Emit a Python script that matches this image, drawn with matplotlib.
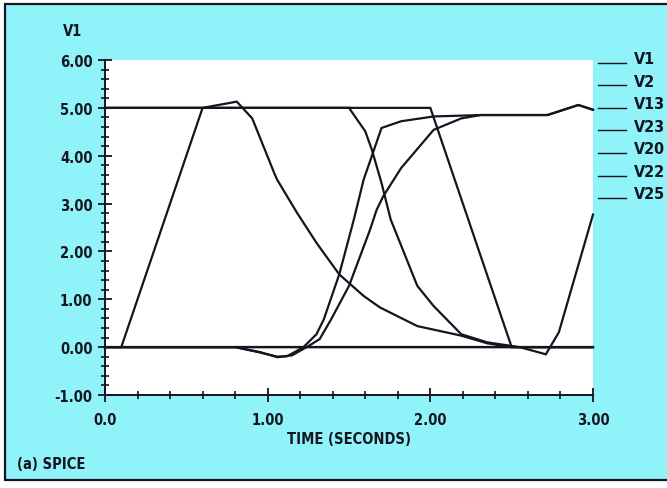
import matplotlib
matplotlib.use('Agg')
import matplotlib.pyplot as plt
from matplotlib.patches import Rectangle
from matplotlib.ticker import MultipleLocator, FixedLocator, FixedFormatter

plt.rcParams['font.family'] = ['DejaVu Sans']
plt.rcParams['font.stretch'] = 'condensed'
plt.rcParams['font.weight'] = 'bold'
plt.rcParams['axes.labelweight'] = 'bold'

# ---- data ----
series_names = ['V1', 'V2', 'V13', 'V23', 'V20', 'V22', 'V25']

t_v1 = [0.0, 3.0]
v_v1 = [0.0, 0.0]

t_v2 = [0.0, 0.1, 0.6, 2.0, 2.5, 3.0]
v_v2 = [0.0, 0.0, 5.0, 5.0, 0.0, 0.0]

t_v13 = [0.0, 0.6, 0.81, 0.905, 0.975, 1.04, 1.058, 1.18, 1.30, 1.44, 1.59, 1.69, 1.92, 2.19, 2.35, 2.5, 3.0]
v_v13 = [5.0, 5.0, 5.13, 4.78, 4.19, 3.64, 3.50, 2.81, 2.18, 1.52, 1.07, 0.83, 0.44, 0.24, 0.08, 0.0, 0.0]

t_v23 = [0.0, 0.8, 0.95, 1.06, 1.12, 1.22, 1.30, 1.345, 1.44, 1.53, 1.59, 1.64, 1.70, 1.82, 2.02, 2.31, 2.72, 2.91, 3.0]
v_v23 = [0.0, 0.0, -0.11, -0.2, -0.19, 0.0, 0.27, 0.58, 1.52, 2.67, 3.5, 3.99, 4.58, 4.72, 4.82, 4.85, 4.85, 5.06, 4.96]

t_v20 = [0.0, 0.8, 0.95, 1.06, 1.15, 1.25, 1.32, 1.39, 1.50, 1.63, 1.67, 1.71, 1.82, 2.02, 2.19, 2.31, 2.72, 2.91, 3.0]
v_v20 = [0.0, 0.0, -0.1, -0.21, -0.17, 0.02, 0.17, 0.58, 1.28, 2.46, 2.87, 3.15, 3.74, 4.54, 4.78, 4.85, 4.85, 5.06, 4.96]

t_v22 = [0.0, 1.5, 1.60, 1.64, 1.70, 1.756, 1.92, 2.02, 2.19, 2.35, 2.55, 3.0]
v_v22 = [5.0, 5.0, 4.51, 4.13, 3.43, 2.67, 1.28, 0.86, 0.27, 0.10, 0.0, 0.0]

t_v25 = [0.0, 2.55, 2.71, 2.79, 3.0]
v_v25 = [0.0, 0.0, -0.15, 0.31, 2.77]

y_ticks = [-1, 0, 1, 2, 3, 4, 5, 6]
y_labels = ['-1.00', '0.00', '1.00', '2.00', '3.00', '4.00', '5.00', '6.00']
x_ticks = [0, 1, 2, 3]
x_labels = ['0.0', '1.00', '2.00', '3.00']

# ---- figure ----
W, H = 667, 489
fig = plt.figure(figsize=(W / 100, H / 100), dpi=100, facecolor='white')
cyan = '#8ff3f9'
ink = '#15151f'
fs = 10.5

bg = Rectangle((5 / W, 1 - 481 / H), 1.2, (481 - 5) / H, transform=fig.transFigure,
               facecolor=cyan, edgecolor=ink, linewidth=1.6, zorder=-5)
fig.patches.append(bg)

ax = fig.add_axes([105 / W, 1 - 396 / H, (593 - 105) / W, (396 - 61) / H])
ax.set_zorder(2)
ax.set_facecolor('white')
ax.set_xlim(0, 3)
ax.set_ylim(-1, 6)

data = [(t_v1, v_v1), (t_v2, v_v2), (t_v13, v_v13), (t_v23, v_v23),
        (t_v20, v_v20), (t_v22, v_v22), (t_v25, v_v25)]
for name, (tt, vv) in zip(series_names, data):
    ax.plot(tt, vv, color=ink, linewidth=1.6, label=name, solid_joinstyle='miter', clip_on=False)

for s in ['top', 'right']:
    ax.spines[s].set_visible(False)
for s in ['left', 'bottom']:
    ax.spines[s].set_linewidth(1.4)
    ax.spines[s].set_color(ink)

ax.yaxis.set_major_locator(FixedLocator(y_ticks))
ax.yaxis.set_major_formatter(FixedFormatter(y_labels))
ax.xaxis.set_major_locator(FixedLocator(x_ticks))
ax.xaxis.set_major_formatter(FixedFormatter(x_labels))
ax.yaxis.set_minor_locator(MultipleLocator(0.2))
ax.xaxis.set_minor_locator(MultipleLocator(0.2))
ax.tick_params(which='major', direction='inout', length=10, width=1.3, color=ink,
               labelsize=fs, labelcolor=ink, pad=4)
ax.tick_params(axis='x', which='major', pad=7)
ax.tick_params(which='minor', direction='inout', length=6, width=1.2, color=ink)

ax.set_xlabel('TIME (SECONDS)', fontsize=fs, color=ink, labelpad=3)

fig.text(73 / W, 1 - 32 / H, 'V1', fontsize=fs, color=ink, ha='center', va='center')
fig.text(17 / W, 1 - 465 / H, '(a) SPICE', fontsize=fs, color=ink, ha='left', va='center')

lfs = 11.5
leg = fig.legend(loc='upper left', bbox_to_anchor=(598 / W, 1 - 52 / H), frameon=False,
                 fontsize=lfs, handlelength=1.75, handletextpad=0.5, labelspacing=0.47,
                 borderpad=0, borderaxespad=0, labelcolor=ink)
for ln in leg.get_lines():
    ln.set_linewidth(1.0)
    yd = ln.get_ydata()
    ln.set_ydata([v - 4 for v in yd])

fig.savefig('out.png', dpi=100, facecolor=fig.get_facecolor())
